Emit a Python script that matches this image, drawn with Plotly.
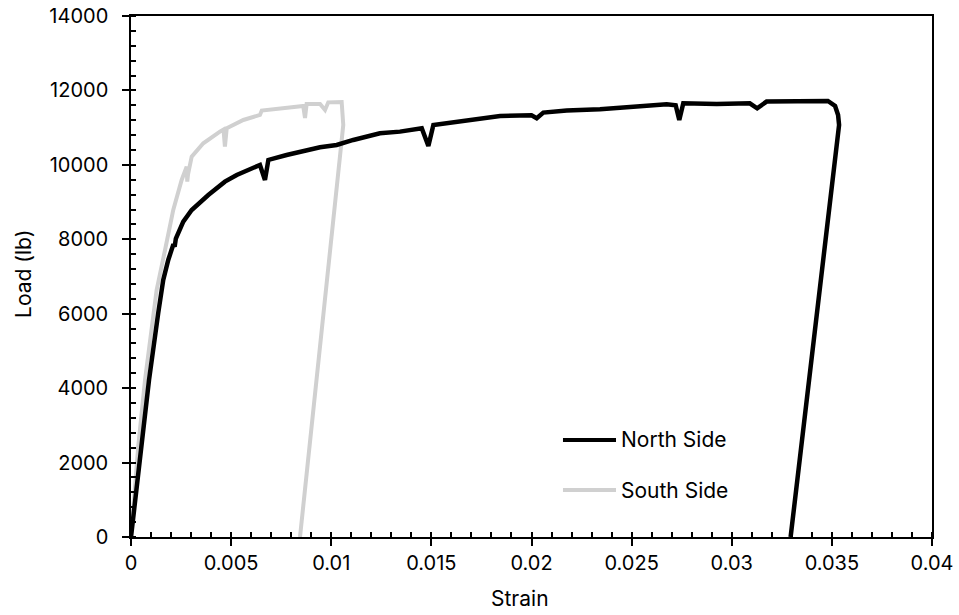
import plotly.graph_objects as go

# Load-strain readings, north side specimen
north_strain = [0.0, 0.0005, 0.0009, 0.00136, 0.00161, 0.00186, 0.00212, 0.00218, 0.00224,
                0.00261, 0.00303, 0.00386, 0.00469, 0.00528, 0.0061, 0.00644, 0.00669,
                0.00686, 0.00777, 0.0086, 0.00944, 0.01027, 0.0111, 0.01243, 0.01343,
                0.01452, 0.01485, 0.0151, 0.01676, 0.01843, 0.02, 0.02026, 0.02059,
                0.02176, 0.02342, 0.02508, 0.02675, 0.0272, 0.02738, 0.02758, 0.02925,
                0.0309, 0.03127, 0.03174, 0.03341, 0.0348, 0.03516, 0.03531, 0.03536,
                0.03294]
north_load = [0, 2420, 4220, 6020, 6907, 7444, 7870, 7800, 8020,
              8474, 8788, 9191, 9549, 9729, 9935, 9997, 9594,
              10132, 10266, 10382, 10473, 10535, 10669, 10848, 10893,
              10982, 10508, 11072, 11206, 11314, 11330, 11252, 11404,
              11458, 11494, 11564, 11628, 11600, 11206, 11655, 11637,
              11655, 11520, 11700, 11718, 11718, 11583, 11341, 11072,
              0]

# Load-strain readings, south side specimen
south_strain = [0.0, 0.00036, 0.0007, 0.00111, 0.00128, 0.0017, 0.00211, 0.00253, 0.00278,
                0.00281, 0.00285, 0.00303, 0.00345, 0.00361, 0.00444, 0.00462, 0.00469,
                0.00478, 0.00561, 0.00644, 0.00653, 0.00777, 0.0086, 0.00869, 0.00877,
                0.00944, 0.00969, 0.00985, 0.01052, 0.0106, 0.00844]
south_load = [0, 2420, 4220, 6020, 6638, 7713, 8788, 9594, 9952,
              9549, 9750, 10220, 10480, 10580, 10893, 10950, 10490,
              10982, 11206, 11341, 11458, 11520, 11583, 11260, 11637,
              11637, 11475, 11680, 11690, 11072, 0]

x_ticks = [0, 0.005, 0.01, 0.015, 0.02, 0.025, 0.03, 0.035, 0.04]
x_labels = ["0", "0.005", "0.01", "0.015", "0.02", "0.025", "0.03", "0.035", "0.04"]
y_ticks = [0, 2000, 4000, 6000, 8000, 10000, 12000, 14000]
y_labels = [str(v) for v in y_ticks]

series_names = ["North Side", "South Side"]
series_colors = ["#000000", "#D0D0D0"]

FONT = "Inter, 'Liberation Sans', Arial, sans-serif"

fig = go.Figure()
# south drawn first so the north curve sits on top where they cross
fig.add_trace(go.Scatter(x=south_strain, y=south_load, mode="lines", name=series_names[1],
                         line=dict(color=series_colors[1], width=4), showlegend=False))
fig.add_trace(go.Scatter(x=north_strain, y=north_load, mode="lines", name=series_names[0],
                         line=dict(color=series_colors[0], width=4.5), showlegend=False))

axis_common = dict(showgrid=False, zeroline=False, showline=True, linecolor="black",
                   linewidth=1.5, mirror=True, tickcolor="black", tickwidth=1.5,
                   ticks="outside", ticklen=7, automargin=False,
                   tickfont=dict(family=FONT, size=20, color="black"))

fig.update_layout(
    width=959, height=615,
    margin=dict(l=131, r=27, t=16, b=78, autoexpand=False),
    paper_bgcolor="white", plot_bgcolor="white",
    font=dict(family=FONT, color="black"),
    xaxis=dict(range=[0, 0.04], tickvals=x_ticks, ticktext=x_labels,
               ticklabelstandoff=0,
               minor=dict(ticks="inside", dtick=0.001, ticklen=5, tickwidth=1.5,
                          tickcolor="black"),
               **axis_common),
    yaxis=dict(range=[0, 14000], tickvals=y_ticks, ticktext=y_labels,
               ticklabelstandoff=10,
               minor=dict(ticks="inside", dtick=400, ticklen=5, tickwidth=1.5,
                          tickcolor="black"),
               **axis_common),
    # inner halves of the major ticks
    xaxis2=dict(overlaying="x", matches="x", range=[0, 0.04], tickvals=x_ticks,
                ticks="inside", ticklen=5, tickwidth=1.5, tickcolor="black",
                showticklabels=False, showgrid=False, zeroline=False, showline=False,
                automargin=False),
    yaxis2=dict(overlaying="y", matches="y", range=[0, 14000], tickvals=y_ticks,
                ticks="inside", ticklen=5, tickwidth=1.5, tickcolor="black",
                showticklabels=False, showgrid=False, zeroline=False, showline=False,
                automargin=False),
)

# axis titles
fig.add_annotation(text="Strain", xref="paper", yref="paper", x=0.4856, y=-0.119,
                   showarrow=False, font=dict(family=FONT, size=21, color="black"),
                   xanchor="center", yanchor="middle")
fig.add_annotation(text="Load (lb)", xref="paper", yref="paper", x=-0.1336, y=0.505,
                   showarrow=False, textangle=-90,
                   font=dict(family=FONT, size=21, color="black"),
                   xanchor="center", yanchor="middle")

# legend keys
legend_y = [0.1862, 0.0902]
for name, color, ly in zip(series_names, series_colors, legend_y):
    fig.add_shape(type="line", xref="paper", yref="paper", x0=0.5393, x1=0.6055,
                  y0=ly, y1=ly, line=dict(color=color, width=4))
    fig.add_annotation(text=name, xref="paper", yref="paper", x=0.609, y=ly,
                       showarrow=False, xanchor="left", yanchor="middle",
                       font=dict(family=FONT, size=21, color="black"))

fig.write_html("out.html")
